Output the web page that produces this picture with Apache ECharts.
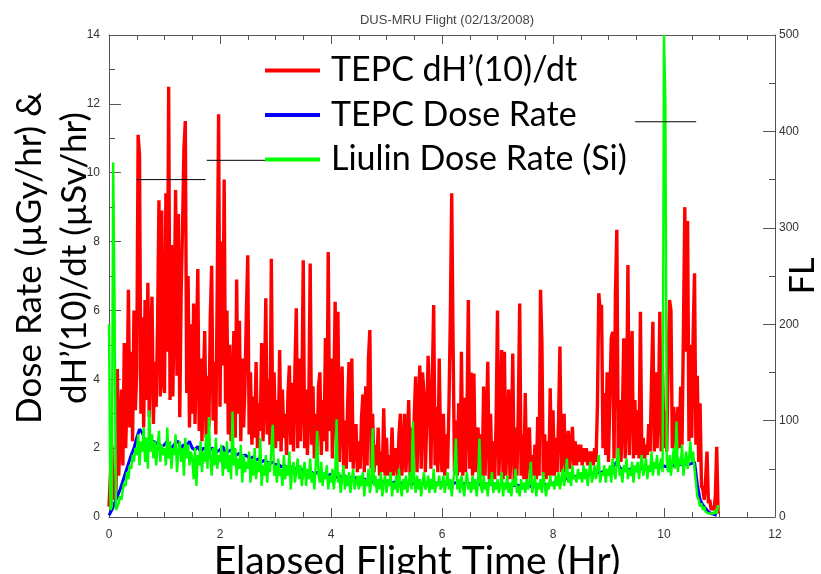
<!DOCTYPE html>
<html>
<head>
<meta charset="utf-8">
<script src="https://cdn.jsdelivr.net/npm/echarts@6/dist/echarts.min.js"></script>
<style>
html,body{margin:0;padding:0;background:#fff;}
#chart{width:821px;height:574px;}
</style>
</head>
<body>
<div id="chart"></div>
<script>
// sample spacing (hours) for TEPC dH'(10)/dt and Liulin series
const fineStep = 0.025;
// sample spacing (hours) for TEPC dose rate
const coarseStep = 0.05;

// TEPC dH'(10)/dt (uSv/hr), 0.0 .. 10.975 h
const tepcDH = [
0.3,1.2,2.1,0.5,1.0,0.6,4.3,1.2,2.4,3.7,1.5,5.05,2.0,3.4,6.6,2.6,4.8,2.2,6.0,3.1,
4.2,11.1,10.5,3.0,5.8,2.6,6.3,3.4,6.8,2.9,5.1,6.4,2.7,4.5,3.2,5.6,9.2,3.5,8.9,4.0,
3.6,9.4,4.8,12.5,3.4,7.9,3.5,6.2,9.5,4.1,8.8,2.9,6.5,8.4,10.7,11.5,3.6,7.0,2.6,5.6,
3.0,6.2,2.7,4.9,7.2,2.5,4.6,2.2,3.9,5.4,2.3,4.1,2.6,5.8,7.3,2.8,4.5,2.4,6.6,11.7,
3.2,8.0,4.4,9.8,3.3,6.0,2.4,5.0,2.2,3.8,5.4,2.3,6.9,3.0,5.7,2.2,4.6,2.6,3.8,5.9,
7.6,2.4,4.2,2.1,3.5,2.3,4.5,2.0,3.3,2.5,5.05,2.2,3.6,6.35,2.4,4.0,2.1,7.5,2.6,4.2,
2.0,3.4,2.2,4.85,1.9,3.7,2.3,3.0,1.8,3.6,4.4,2.1,3.9,1.9,4.3,6.06,2.0,4.6,2.2,3.5,
7.46,2.0,3.7,1.8,3.2,7.36,2.1,3.8,1.7,3.0,1.9,3.8,4.2,1.8,3.4,2.2,5.2,1.9,7.7,2.5,
4.6,1.7,3.5,6.25,2.2,5.96,1.6,3.2,4.37,1.5,2.8,1.4,3.3,4.5,1.6,4.6,1.4,2.4,2.7,1.3,
2.2,1.4,2.9,3.56,1.3,3.8,1.5,4.6,5.43,1.4,3.0,1.3,2.1,1.5,2.6,1.2,1.9,1.3,3.16,1.2,
2.3,1.2,1.8,1.3,2.6,1.2,1.6,2.0,1.2,2.4,3.0,1.2,1.8,3.0,1.3,2.2,3.4,1.2,2.6,1.4,
2.9,4.08,1.3,3.1,4.4,1.4,4.2,3.56,1.3,2.8,4.68,3.4,1.4,3.9,6.16,1.5,3.2,1.3,4.6,2.0,
1.3,3.0,1.2,2.4,1.4,3.2,5.77,9.4,5.0,1.3,2.8,1.2,3.3,1.3,4.8,1.2,3.46,1.3,2.9,6.3,
1.4,4.2,1.2,4.17,1.3,2.2,2.6,1.1,2.4,1.2,3.79,1.2,2.6,4.51,1.1,3.0,1.2,2.2,1.1,2.8,
6.0,1.2,2.5,4.85,1.1,4.8,1.2,2.3,3.7,1.1,2.2,4.75,1.1,2.6,1.2,3.1,6.2,1.2,2.4,1.1,
3.6,1.1,2.0,2.6,1.1,1.8,1.2,2.1,1.1,2.9,1.2,6.6,5.1,1.2,2.4,1.1,2.2,1.2,3.74,1.2,
3.1,1.2,2.3,1.3,2.8,4.95,1.3,2.0,3.0,1.3,1.9,2.5,1.4,2.0,2.62,1.5,2.2,1.5,2.1,1.6,
2.1,1.5,2.0,1.6,2.0,1.5,1.9,1.6,1.9,1.5,2.0,1.6,3.2,6.5,6.0,6.16,2.0,3.6,1.8,4.2,
1.6,3.5,5.2,5.38,1.7,6.5,8.34,1.8,3.4,1.6,2.9,5.19,1.7,3.0,7.32,1.8,3.9,5.4,1.7,3.4,
1.8,3.1,1.7,5.96,1.8,2.3,1.7,2.1,1.8,2.7,1.9,4.0,5.67,1.9,4.2,2.0,3.2,5.96,1.9,4.2,
2.0,3.1,1.9,4.5,6.3,6.0,2.0,3.2,2.6,1.9,3.2,2.0,3.79,2.1,5.4,9.0,4.8,8.6,2.2,5.0,
2.3,5.3,7.08,2.1,4.1,1.6,3.3,0.9,0.8,0.5,1.1,1.9,0.4,0.5,0.2,0.3,0.2,0.6,2.04,0.1
];

// TEPC dose rate (uGy/hr), 0.0 .. 10.95 h
const tepcDose = [
0.05,0.2,0.4,0.6,0.8,1.05,1.3,1.55,1.8,2.0,
2.3,2.55,2.45,2.2,2.1,2.15,2.2,2.15,2.1,2.05,
2.1,2.2,1.95,2.05,2.15,2.2,2.0,2.1,2.05,2.2,
2.0,1.95,2.05,1.9,2.0,1.95,1.9,2.0,1.95,1.9,
1.95,2.05,1.85,1.9,1.95,1.85,1.8,1.85,1.75,1.8,
1.75,1.7,1.75,1.65,1.7,1.6,1.65,1.6,1.55,1.6,
1.5,1.55,1.45,1.5,1.45,1.4,1.45,1.4,1.35,1.4,
1.35,1.3,1.35,1.3,1.25,1.3,1.25,1.2,1.25,1.2,
1.25,1.2,1.15,1.2,1.15,1.2,1.1,1.15,1.1,1.15,
1.1,1.05,1.1,1.05,1.1,1.0,1.05,1.0,1.05,1.0,
1.05,1.0,0.98,1.02,0.97,1.0,0.95,1.0,0.97,0.95,
1.0,0.95,0.98,0.95,1.0,0.97,0.95,1.0,0.97,1.02,
0.98,1.0,0.95,1.02,0.97,1.0,0.96,0.99,0.95,1.0,
0.97,0.95,1.0,0.96,0.94,0.98,0.95,0.97,0.93,0.96,
0.95,0.92,0.96,0.93,0.9,0.94,0.91,0.93,0.9,0.92,
0.9,0.93,0.89,0.92,0.9,0.94,0.91,0.95,0.93,0.97,
0.98,1.0,1.04,1.07,1.1,1.12,1.16,1.15,1.18,1.2,
1.2,1.22,1.25,1.23,1.27,1.25,1.3,1.28,1.32,1.3,
1.33,1.36,1.5,1.6,1.45,1.35,1.38,1.36,1.4,1.38,
1.4,1.38,1.42,1.4,1.44,1.42,1.46,1.44,1.47,1.45,
1.48,1.46,1.5,1.48,1.52,1.5,1.53,1.51,1.55,1.53,
1.56,1.6,0.95,0.5,0.35,0.25,0.15,0.1,0.08,0.05
];

// Liulin dose rate in Si (uGy/hr), 0.0 .. 10.975 h
const liulinDose = [
5.6,0.2,0.3,10.3,6.3,0.2,0.3,0.4,0.6,0.5,0.8,1.0,0.9,1.3,1.1,1.5,1.4,1.8,1.6,2.0,
1.8,2.4,1.5,2.2,1.9,2.6,1.6,2.3,1.4,3.1,1.9,2.4,1.7,2.2,1.5,2.0,2.5,1.6,2.1,1.8,
2.0,1.5,2.6,1.7,2.2,1.4,2.0,1.8,2.4,1.3,1.9,2.2,1.6,2.0,1.2,2.3,1.7,2.1,1.5,1.9,
1.7,1.1,2.0,0.9,1.8,1.5,2.2,1.3,1.9,1.6,2.4,1.4,2.9,1.7,1.2,2.0,1.5,2.3,1.4,1.8,
1.6,2.1,1.2,1.9,1.4,2.2,1.3,1.8,1.1,3.06,1.5,2.0,1.2,1.7,1.4,2.1,1.0,1.8,1.3,1.6,
1.4,1.9,1.0,1.7,1.2,2.0,1.1,1.6,1.3,2.3,0.9,1.5,1.2,1.8,1.0,1.6,1.3,2.0,2.68,1.2,
1.5,1.0,1.7,1.2,1.4,0.9,1.8,1.1,1.5,1.2,1.9,0.8,1.4,1.6,1.0,1.3,1.7,1.1,1.5,0.9,
1.3,1.6,0.9,1.4,1.1,1.7,1.0,1.3,0.8,1.5,2.5,1.2,1.0,1.6,0.9,1.3,1.1,1.5,0.8,1.2,
1.0,1.4,0.8,1.2,2.84,1.0,1.3,0.7,1.1,1.5,0.8,1.2,0.9,1.3,0.7,1.1,1.4,0.8,1.0,1.2,
0.8,1.2,0.9,1.3,0.6,1.1,0.9,1.4,0.7,1.0,2.58,0.9,1.2,0.7,1.1,0.8,1.3,0.6,1.0,1.2,
0.7,1.1,0.9,1.3,0.6,1.0,0.8,1.2,0.7,1.4,0.9,0.6,1.1,0.8,1.2,0.7,1.0,1.3,0.8,2.77,
1.0,0.7,1.2,0.8,1.1,0.6,1.0,1.3,0.8,0.9,1.2,0.7,1.1,0.8,1.4,0.7,1.0,0.9,1.2,0.8,
0.9,1.2,0.7,1.0,1.3,0.8,1.1,0.6,1.0,1.4,2.28,0.8,1.1,0.7,1.2,0.9,0.6,1.0,1.3,0.8,
1.0,0.7,1.2,0.8,1.1,0.6,1.0,2.28,0.9,0.7,1.2,0.8,1.0,0.6,1.1,0.9,1.3,0.7,1.0,0.8,
1.1,0.7,0.9,1.3,0.6,1.0,0.8,1.2,0.7,1.0,0.6,1.1,0.9,1.4,0.7,0.9,0.6,1.1,0.8,1.0,
0.7,1.1,0.8,1.0,1.6,0.7,0.9,1.2,0.6,1.0,0.8,1.1,0.7,1.3,0.9,0.6,1.0,0.8,1.2,0.9,
1.0,0.8,1.2,0.9,1.3,0.8,1.1,1.4,0.9,1.2,1.7,1.0,1.3,0.9,1.5,1.1,1.2,1.0,1.4,1.1,
1.3,1.0,1.5,1.1,1.4,0.9,1.3,1.6,1.0,1.2,1.5,1.1,1.4,1.8,1.0,1.3,1.2,1.5,1.0,1.4,
1.2,1.5,1.0,1.7,1.3,1.1,1.6,2.0,1.2,1.4,1.0,1.5,1.3,1.7,1.1,1.4,1.2,1.6,1.0,1.5,
1.3,1.6,1.1,1.5,1.8,1.2,1.4,1.7,1.1,1.5,1.3,1.9,1.2,1.6,1.4,1.8,1.2,1.5,1.7,1.3,
14.0,12.1,1.6,1.3,1.8,1.2,1.6,2.0,1.4,2.77,1.3,1.7,1.5,2.1,1.2,1.6,1.9,1.4,1.7,2.2,
1.6,1.9,1.4,1.0,0.6,0.5,0.3,0.4,0.2,0.3,0.15,0.2,0.1,0.15,0.1,0.05,0.1,0.2,0.1,0.35
];

// Flight level segments (hours, FL)
const flStart = [0.50, 1.76, 9.48];
const flEnd   = [1.74, 9.42, 10.58];
const flLevel = [350, 370, 410];

const xTickLabels = ['0','2','4','6','8','10','12'];

const seriesNames = ['TEPC dH\u2019(10)/dt', 'TEPC Dose Rate', 'Liulin Dose Rate (Si)'];

function toXY(values, step) {
  return values.map((v, i) => [+(i * step).toFixed(4), v]);
}
const flData = [];
flLevel.forEach((lv, k) => {
  if (k > 0) flData.push([flStart[k], '-']);
  flData.push([flStart[k], lv]);
  flData.push([flEnd[k], lv]);
});

const axisColor = '#555';
const tickFont = {fontFamily: 'Liberation Sans', fontSize: 12, color: '#333'};
const bigFont = 'Lato';

const chart = echarts.init(document.getElementById('chart'), null, {renderer: 'canvas'});
chart.setOption({
  animation: false,
  backgroundColor: '#fff',
  title: {
    text: 'DUS-MRU Flight (02/13/2008)',
    left: 442, top: 9, textAlign: 'center',
    textStyle: {fontFamily: 'Liberation Sans', fontSize: 13, fontWeight: 'normal', color: '#444'}
  },
  grid: {left: 109, right: 46, top: 35, bottom: 57, containLabel: false, outerBoundsMode: 'none'},
  legend: {
    data: seriesNames,
    orient: 'vertical',
    left: 265, top: 47,
    icon: 'rect',
    itemWidth: 55, itemHeight: 4, itemGap: 7.5,
    backgroundColor: '#fff',
    padding: [5, 5, 5, 0],
    selectedMode: false,
    textStyle: {fontFamily: bigFont, fontSize: 34, color: '#000', lineHeight: 37, padding: [0, 0, 0, 6]}
  },
  xAxis: [{
    type: 'value', min: 0, max: 12, interval: 2,
    name: 'Elapsed Flight Time (Hr)', nameLocation: 'middle', nameGap: 25, nameMoveOverlap: false,
    nameTextStyle: {fontFamily: bigFont, fontSize: 39, color: '#000', padding: [0, 50, 0, 0]},
    axisLine: {show: true, onZero: false, lineStyle: {color: axisColor, width: 1}},
    axisTick: {show: true, inside: true, length: 9, lineStyle: {color: axisColor}},
    minorTick: {show: true, splitNumber: 4, length: 5, lineStyle: {color: axisColor}},
    axisLabel: Object.assign({margin: 12, formatter: v => xTickLabels[v / 2]}, tickFont),
    splitLine: {show: false}
  }, {
    type: 'value', min: 0, max: 12, interval: 2, position: 'top',
    axisLine: {show: true, onZero: false, lineStyle: {color: axisColor, width: 1}},
    axisTick: {show: true, inside: true, length: 9, lineStyle: {color: axisColor}},
    minorTick: {show: true, splitNumber: 4, length: 5, lineStyle: {color: axisColor}},
    axisLabel: {show: false},
    splitLine: {show: false}
  }],
  yAxis: [{
    type: 'value', min: 0, max: 14, interval: 2, position: 'left',
    name: 'Dose Rate (\u00b5Gy/hr) &\ndH\u2019(10)/dt (\u00b5Sv/hr)',
    nameLocation: 'middle', nameGap: 12, nameRotate: 90, nameMoveOverlap: false,
    nameTextStyle: {fontFamily: bigFont, fontSize: 35, color: '#000', lineHeight: 45, padding: [0, 0, 0, 36]},
    axisLine: {show: true, onZero: false, lineStyle: {color: axisColor, width: 1}},
    axisTick: {show: true, inside: true, length: 12, lineStyle: {color: axisColor}},
    minorTick: {show: true, splitNumber: 2, length: 6, lineStyle: {color: axisColor}},
    axisLabel: Object.assign({margin: 9}, tickFont),
    splitLine: {show: false}
  }, {
    type: 'value', min: 0, max: 500, interval: 100, position: 'right',
    name: 'FL', nameLocation: 'middle', nameGap: 10, nameRotate: 90, nameMoveOverlap: false,
    nameTextStyle: {fontFamily: bigFont, fontSize: 34, color: '#000', lineHeight: 36},
    axisLine: {show: true, onZero: false, lineStyle: {color: axisColor, width: 1}},
    axisTick: {show: true, inside: true, length: 12, lineStyle: {color: axisColor}},
    minorTick: {show: true, splitNumber: 2, length: 6, lineStyle: {color: axisColor}},
    axisLabel: Object.assign({margin: 4}, tickFont),
    splitLine: {show: false}
  }],
  series: [{
    name: seriesNames[0], type: 'line', xAxisIndex: 0, yAxisIndex: 0,
    data: toXY(tepcDH, fineStep),
    symbol: 'none', showSymbol: false, silent: true, z: 2,
    color: '#ff0000', itemStyle: {color: '#ff0000'},
    lineStyle: {color: '#ff0000', width: 3.4, join: 'bevel'}
  }, {
    name: seriesNames[1], type: 'line', xAxisIndex: 0, yAxisIndex: 0,
    data: toXY(tepcDose, coarseStep),
    symbol: 'none', showSymbol: false, silent: true, z: 3,
    color: '#0000ff', itemStyle: {color: '#0000ff'},
    lineStyle: {color: '#0000ff', width: 3}
  }, {
    name: seriesNames[2], type: 'line', xAxisIndex: 0, yAxisIndex: 0,
    data: toXY(liulinDose, fineStep),
    symbol: 'none', showSymbol: false, silent: true, z: 3,
    color: '#00ff00', itemStyle: {color: '#00ff00'},
    lineStyle: {color: '#00ff00', width: 2.4, join: 'bevel'}
  }, {
    name: 'FL', type: 'line', xAxisIndex: 0, yAxisIndex: 1,
    data: flData, connectNulls: false,
    symbol: 'none', showSymbol: false, silent: true, z: 3,
    color: '#000', lineStyle: {color: '#000', width: 1}
  }]
});
</script>
</body>
</html>
